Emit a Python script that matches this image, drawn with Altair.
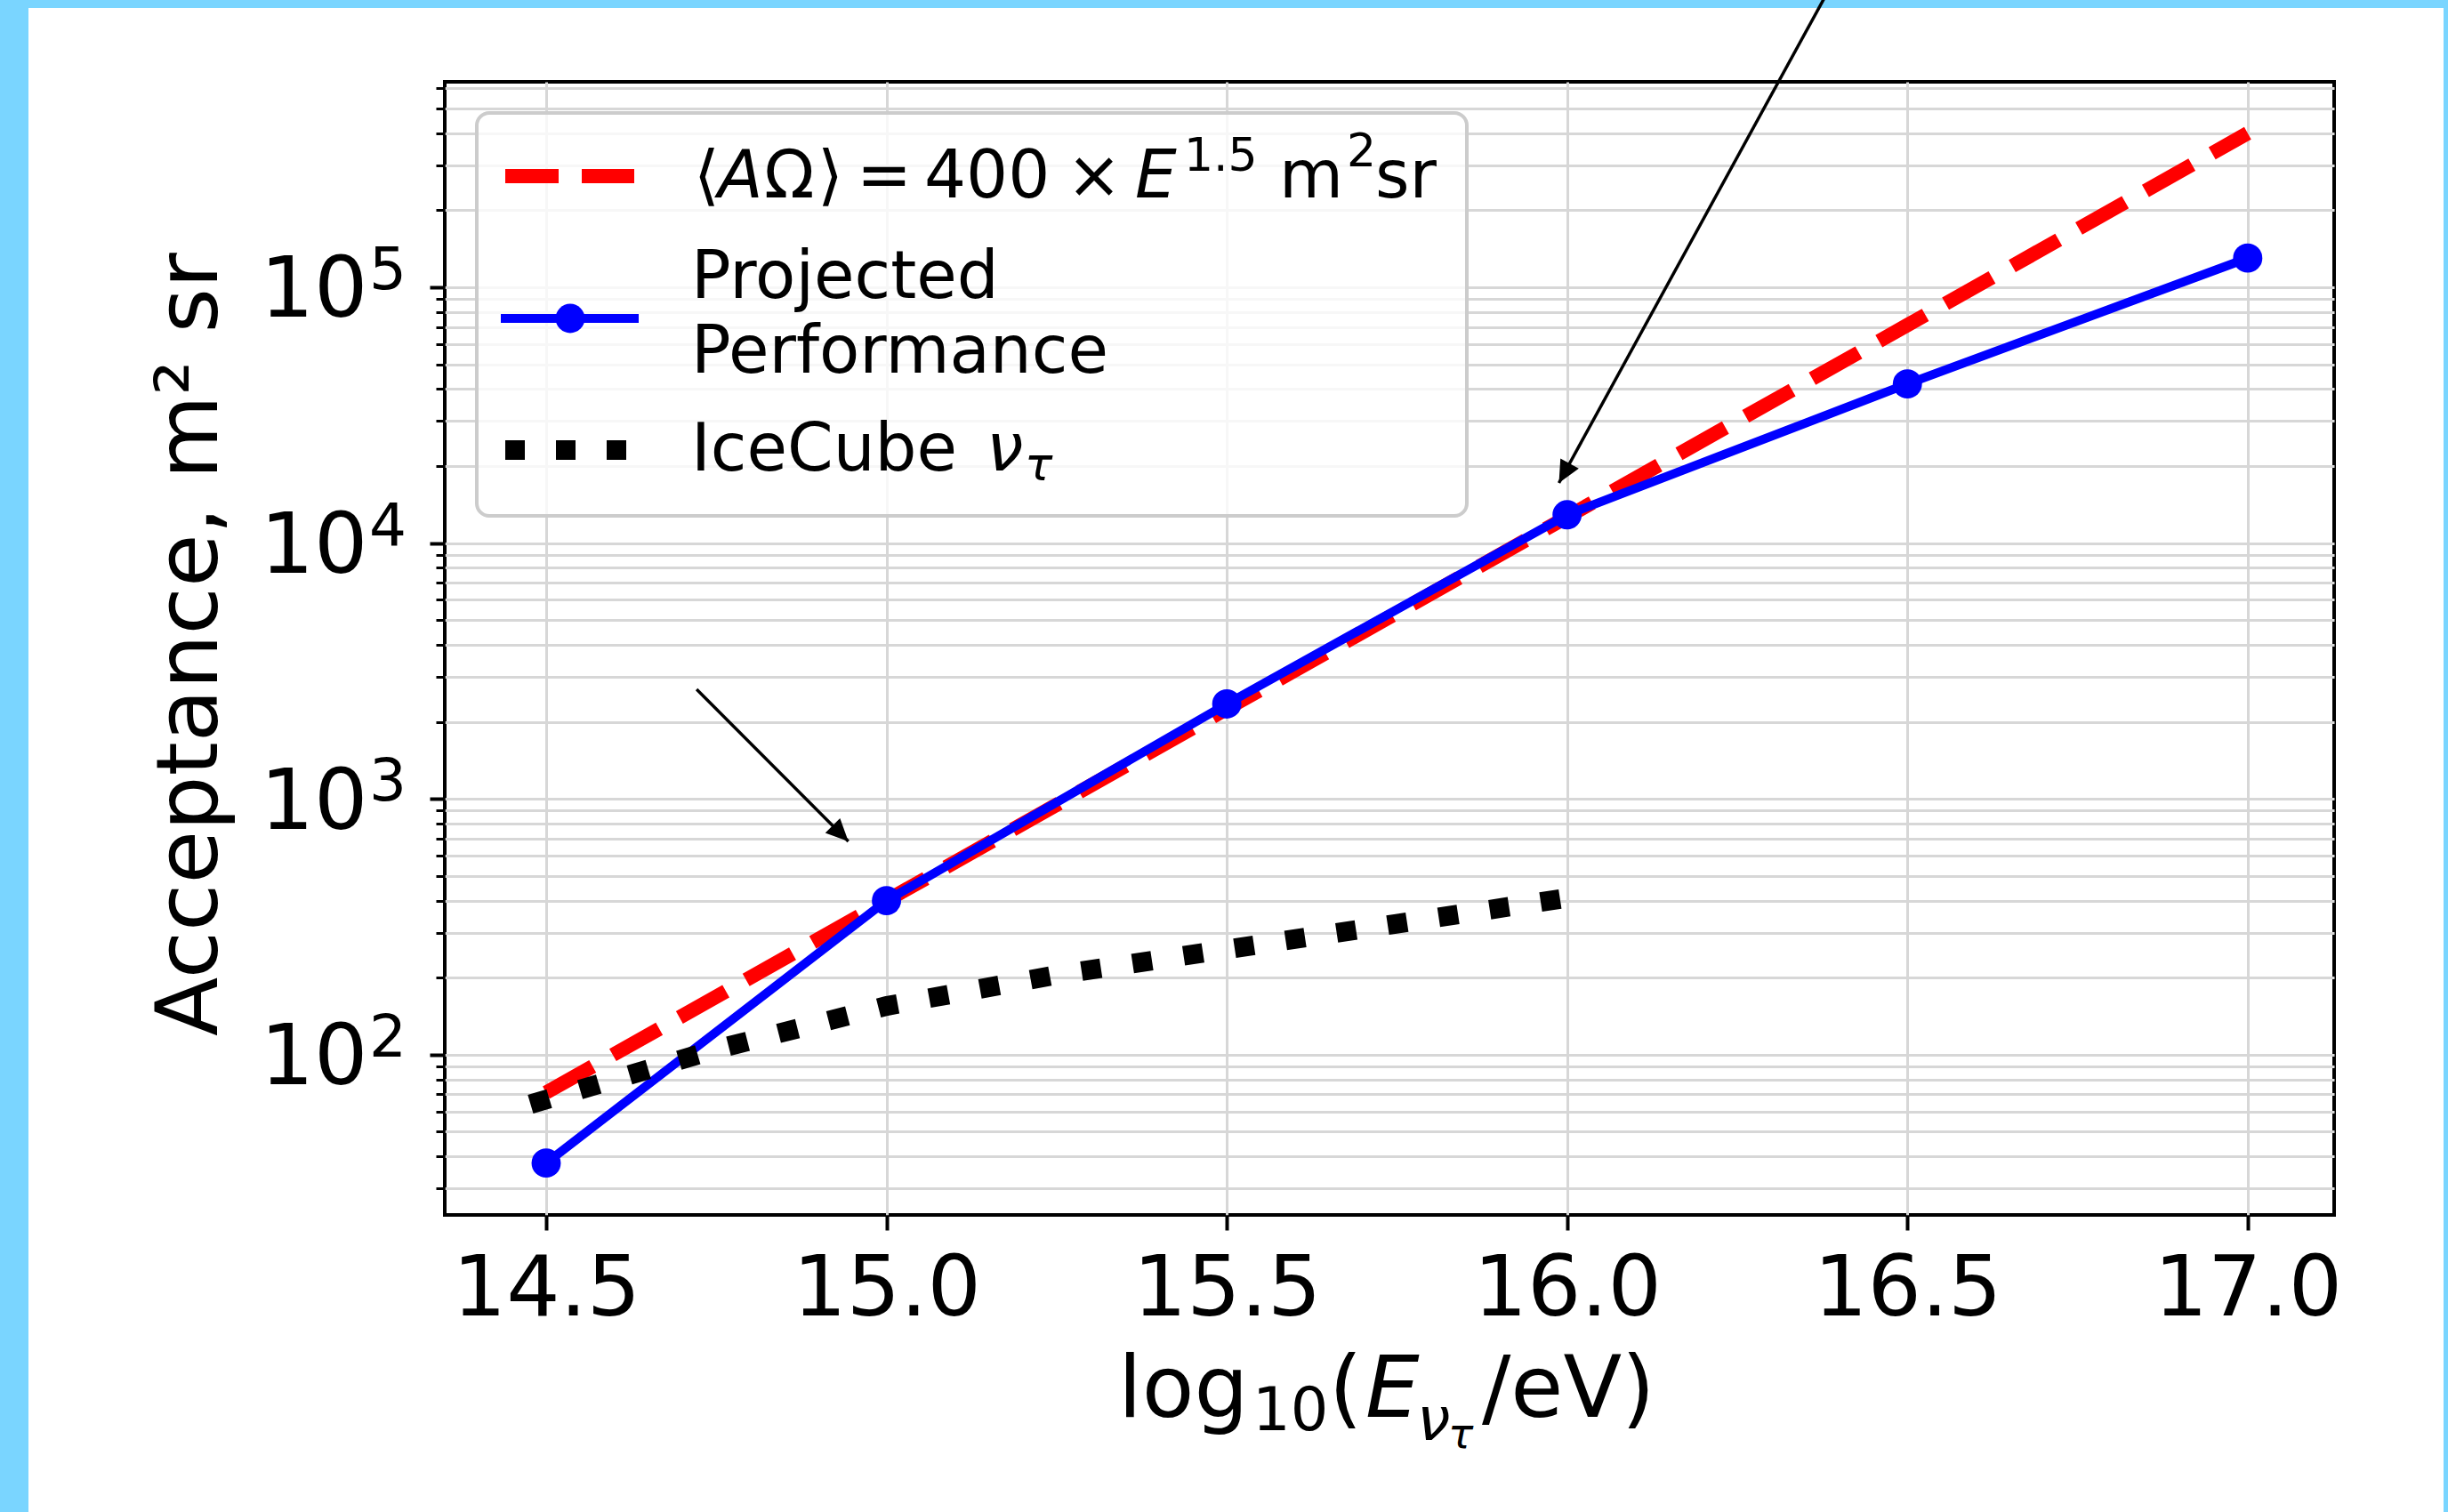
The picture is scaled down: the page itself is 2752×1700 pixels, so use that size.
import altair as alt
import pandas as pd

# ---------------------------------------------------------------- data
log_energy = [14.5, 15.0, 15.5, 16.0, 16.5, 17.0]
projected_acceptance = [37.7, 400.0, 2350.0, 12900.0, 41900.0, 130000.0]
power_law_acceptance = [71.1, 400.0, 2250.0, 12650.0, 71100.0, 400000.0]

icecube_log_energy = [14.477, 14.75, 15.0, 15.25, 15.5, 15.75, 16.0]
icecube_acceptance = [64.0, 105.0, 155.0, 205.0, 258.0, 325.0, 410.0]

x_ticks = [14.5, 15.0, 15.5, 16.0, 16.5, 17.0]
y_major_ticks = [100, 1000, 10000, 100000]
y_major_exponents = ["2", "3", "4", "5"]
y_minor_ticks = [30, 40, 50, 60, 70, 80, 90,
                 200, 300, 400, 500, 600, 700, 800, 900,
                 2000, 3000, 4000, 5000, 6000, 7000, 8000, 9000,
                 20000, 30000, 40000, 50000, 60000, 70000, 80000, 90000,
                 200000, 300000, 400000, 500000, 600000]

arrow_tail_x = [14.721, 16.398]
arrow_tail_y = [2680.0, 1690000.0]
arrow_tip_x = [14.944, 15.988]
arrow_tip_y = [682.0, 17180.0]
arrow_angles = [135.0, 208.7]

y_title = "Acceptance, m² sr"
legend_projected = ["Projected", "Performance"]
legend_icecube = "IceCube"

# ---------------------------------------------------------------- style
FONT = "DejaVu Sans"
GRID = "#d7d7d7"
BORDER = "#7ad5ff"
W, H = 2124, 1274
MARKER = 1080

x_scale = alt.Scale(domain=[14.351, 17.127], nice=False, zero=False)
y_scale = alt.Scale(type="log", domain=[23.63, 635300], nice=False)

major_test = "indexof([100, 1000, 10000, 100000], datum.value) >= 0"

x_axis = alt.Axis(
    values=x_ticks, format=".1f", grid=True, gridColor=GRID, gridWidth=3,
    domain=False, ticks=True, tickColor="black", tickSize=17, tickWidth=4,
    labelFont=FONT, labelFontSize=95, labelColor="black",
    labelBaseline="alphabetic", labelPadding=95, labelLimit=0,
    labelFlush=False, labelOverlap=False, title=None,
)
y_axis = alt.Axis(
    values=y_major_ticks + y_minor_ticks,
    labelExpr=f"{major_test} ? '10' : ''",
    grid=True, gridColor=GRID, gridWidth=3, domain=False,
    tickColor="black",
    tickSize={"condition": {"test": major_test, "value": 17}, "value": 10},
    tickWidth={"condition": {"test": major_test, "value": 4}, "value": 3},
    labelFont=FONT, labelFontSize=95, labelColor="black",
    labelAlign="right", labelBaseline="alphabetic", labelOffset=33,
    labelPadding=70, labelLimit=0, labelFlush=False, labelOverlap=False,
    title=y_title, titleFont=FONT, titleFontSize=97, titleFontWeight="normal",
    titleColor="black", titleAngle=270, titleAlign="center",
    titleBaseline="alphabetic", titleX=-257, titleY=632,
)

curve_df = pd.DataFrame({
    "logE": log_energy,
    "projected": projected_acceptance,
    "power_law": power_law_acceptance,
})
ice_df = pd.DataFrame({"logE": icecube_log_energy, "acc": icecube_acceptance})
exp_df = pd.DataFrame({"v": y_major_ticks, "e": y_major_exponents})
one = pd.DataFrame({"k": [0]})


def X(f):
    return alt.X(f, type="quantitative", scale=x_scale, axis=x_axis)


def Y(f):
    return alt.Y(f, type="quantitative", scale=y_scale, axis=y_axis)


layers = []

# light-blue frame strips round the figure
for x0, x1, y0, y1 in [(-500, -468, -92, 1608), (-500, 2252, -92, -83), (2247, 2252, -92, 1608)]:
    layers.append(alt.Chart(one).mark_rect(color=BORDER).encode(
        x=alt.value(x0), x2=alt.value(x1), y=alt.value(y0), y2=alt.value(y1)))

# exponents of the decade labels on the y axis
layers.append(alt.Chart(exp_df).mark_text(
    font=FONT, fontSize=66, align="left", baseline="alphabetic", dy=2, color="black"
).encode(x=alt.value(-85), y=Y("v"), text="e:N"))

# power law reference  <AΩ> = 400 E^1.5
layers.append(alt.Chart(curve_df).mark_line(
    color="#ff0000", strokeWidth=16, strokeDash=[60, 26], strokeCap="butt"
).encode(x=X("logE"), y=Y("power_law")))

# projected performance
layers.append(alt.Chart(curve_df).mark_line(
    color="#0000ff", strokeWidth=10, strokeCap="square", strokeJoin="round"
).encode(x=X("logE"), y=Y("projected")))
layers.append(alt.Chart(curve_df).mark_circle(
    color="#0000ff", size=MARKER, opacity=1
).encode(x=X("logE"), y=Y("projected")))

# IceCube tau-neutrino acceptance
layers.append(alt.Chart(ice_df).mark_line(
    color="black", strokeWidth=22, strokeDash=[22, 36], strokeCap="butt"
).encode(x=X("logE"), y=Y("acc")))

# annotation arrows
arrow_df = pd.DataFrame({
    "tx": arrow_tail_x, "ty": arrow_tail_y, "hx": arrow_tip_x, "hy": arrow_tip_y,
})
layers.append(alt.Chart(arrow_df).mark_rule(color="black", strokeWidth=3.5).encode(
    x=X("tx"), y=Y("ty"), x2="hx:Q", y2="hy:Q"))
HEAD = "M0,0L0.94,2L-0.94,2Z"
for hx, hy, ang in zip(arrow_tip_x, arrow_tip_y, arrow_angles):
    layers.append(alt.Chart(pd.DataFrame({"hx": [hx], "hy": [hy]})).mark_point(
        shape=HEAD, size=625, filled=True, color="black", opacity=1,
        strokeWidth=0, angle=ang,
    ).encode(x=X("hx"), y=Y("hy")))

# legend box and handles
layers.append(alt.Chart(one).mark_rect(
    fill="white", fillOpacity=0.8, stroke="#cccccc", strokeWidth=4, cornerRadius=14
).encode(x=alt.value(36), x2=alt.value(1149), y=alt.value(35), y2=alt.value(488)))
layers.append(alt.Chart(one).mark_rule(
    color="#ff0000", strokeWidth=16, strokeDash=[60, 26], strokeCap="butt"
).encode(x=alt.value(68), x2=alt.value(213), y=alt.value(106)))
layers.append(alt.Chart(one).mark_rule(
    color="#0000ff", strokeWidth=10, strokeCap="square"
).encode(x=alt.value(68), x2=alt.value(213), y=alt.value(266)))
layers.append(alt.Chart(one).mark_circle(color="#0000ff", size=MARKER, opacity=1).encode(
    x=alt.value(141), y=alt.value(266)))
layers.append(alt.Chart(one).mark_rule(
    color="black", strokeWidth=22, strokeDash=[22, 35], strokeCap="butt"
).encode(x=alt.value(68), x2=alt.value(213), y=alt.value(414)))


def text(s, x, y, size, italic=False):
    kw = dict(text=s, font=FONT, fontSize=size, align="left",
              baseline="alphabetic", color="black")
    if italic:
        kw["fontStyle"] = "italic"
    return alt.Chart(one).mark_text(**kw).encode(x=alt.value(x), y=alt.value(y))


# legend labels
for s, x, y, size, it in [
    ("⟨", 280, 130, 74, False), ("A", 307, 130, 74, True),
    ("Ω", 359, 130, 74, False), ("⟩", 419, 130, 74, False),
    ("=", 463, 130, 74, False), ("400", 539, 130, 74, False),
    ("×", 699, 130, 74, False), ("E", 776, 130, 74, True),
    ("1.5", 831, 100, 52, False), ("m", 938, 130, 74, False),
    ("2", 1014, 95, 52, False), ("sr", 1046, 130, 74, False),
]:
    layers.append(text(s, x, y, size, it))
layers.append(text(legend_projected[0], 277, 243, 74))
layers.append(text(legend_projected[1], 277, 327, 74))
layers.append(text(legend_icecube, 277, 437, 74))
layers.append(text("ν", 609, 437, 74, True))
layers.append(text("τ", 652, 448, 52, True))

# x axis title  log10(E_nu_tau / eV)
for s, x, y, size, it in [
    ("log", 757, 1501, 96, False), ("10", 908, 1516, 67, False),
    ("(", 994, 1501, 96, False), ("E", 1035, 1501, 96, True),
    ("ν", 1093, 1527, 67, True), ("τ", 1128, 1536, 47, True),
    ("/eV)", 1166, 1501, 96, False),
]:
    layers.append(text(s, x, y, size, it))

chart = alt.layer(*layers).properties(
    width=W, height=H,
    autosize=alt.AutoSizeParams(type="none"),
    padding={"left": 500, "top": 92, "right": 128, "bottom": 334},
    background="white",
).configure_view(stroke="black", strokeWidth=4)

chart.save("out.html", embed_options={"renderer": "svg", "actions": False})
